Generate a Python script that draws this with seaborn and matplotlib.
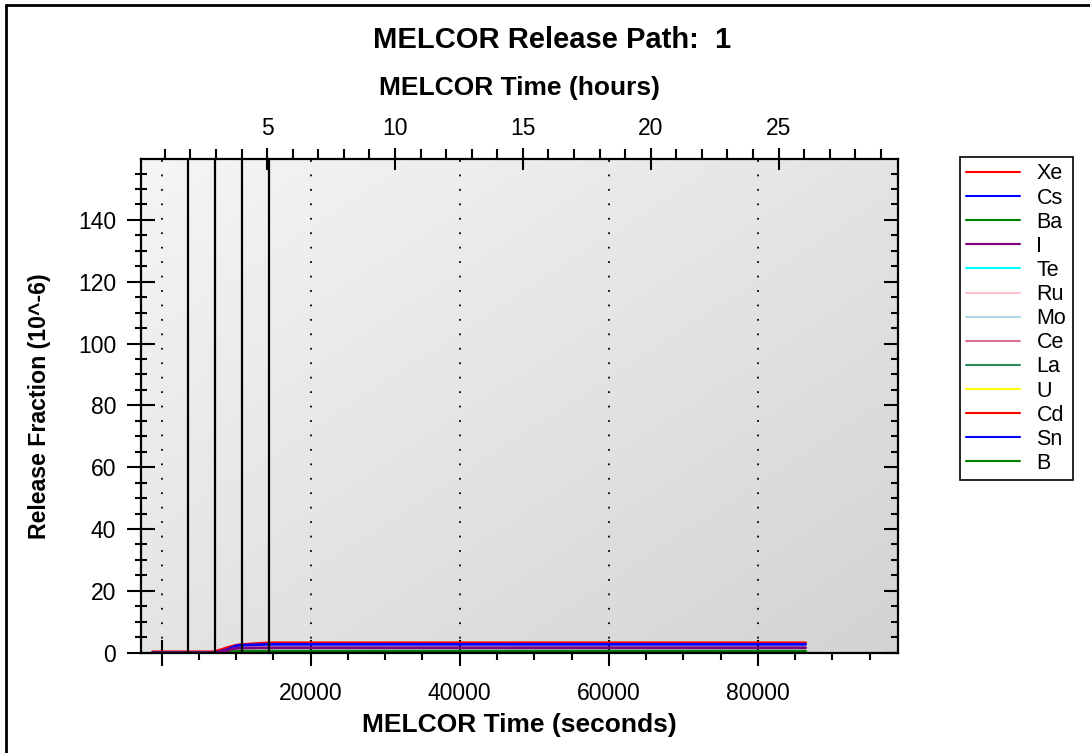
import numpy as np
import pandas as pd
import matplotlib
matplotlib.use("Agg")
import matplotlib.pyplot as plt
import seaborn as sns
from matplotlib.ticker import MultipleLocator, FixedLocator, NullFormatter

# ---------------- data ----------------
elements = ["Xe", "Cs", "Ba", "I", "Te", "Ru", "Mo", "Ce", "La", "U", "Cd", "Sn", "B"]
colors = ["red", "blue", "green", "purple", "cyan", "pink", "lightblue",
          "palevioletred", "seagreen", "yellow", "red", "blue", "green"]

# time breakpoints (seconds)
time_s = [-1200, 7000, 8000, 9000, 10000, 10500, 14300, 86400]
xe_vals = [0.3, 0.3, 1.0, 1.8, 2.4, 2.6, 3.2, 3.2]
cs_vals = [0.0, 0.0, 0.4, 1.2, 2.2, 2.4, 2.7, 2.7]
ba_vals = [0.0, 0.0, 0.1, 0.3, 0.4, 0.5, 0.5, 0.5]
i_vals = [0.0, 0.0, 0.3, 0.9, 1.4, 1.5, 1.6, 1.6]
zero_vals = [0.0, 0.0, 0.0, 0.0, 0.0, 0.0, 0.0, 0.0]
series = {"Xe": xe_vals, "Cs": cs_vals, "Ba": ba_vals, "I": i_vals}

event_times = [3600, 7200, 10800, 14400]          # seconds
x_major = [0, 20000, 40000, 60000, 80000]
x_labels = ["", "20000", "40000", "60000", "80000"]
y_major = [0, 20, 40, 60, 80, 100, 120, 140]
hour_major = [5, 10, 15, 20, 25]

rows = []
for el in elements:
    vals = series.get(el, zero_vals)
    for t, v in zip(time_s, vals):
        rows.append({"time": t, "value": v, "element": el})
df = pd.DataFrame(rows)

# ---------------- figure ----------------
sns.set_theme(style="white")
plt.rcParams["font.family"] = ["Liberation Sans", "DejaVu Sans"]
for k in ["text.color", "axes.labelcolor", "xtick.color", "ytick.color"]:
    plt.rcParams[k] = "black"

W, H = 1090, 753
fig = plt.figure(figsize=(W / 100, H / 100), dpi=100)
pos = [141 / W, (H - 652.7) / H, (897.7 - 141) / W, (652.7 - 159.3) / H]

# gradient background
bg = fig.add_axes(pos, zorder=0)
gx, gy = np.meshgrid(np.linspace(0, 1, 300), np.linspace(0, 1, 300))
grad = (gx + gy) / 2.0
bg.imshow(grad, cmap=matplotlib.colors.LinearSegmentedColormap.from_list(
    "g", ["#f5f5f5", "#d3d3d3"]), aspect="auto", extent=[0, 1, 0, 1], origin="upper")
bg.axis("off")

ax = fig.add_axes(pos, zorder=1)
ax.set_facecolor("none")

palette = dict(zip(elements, colors))
sns.lineplot(data=df, x="time", y="value", hue="element", hue_order=elements,
             palette=palette, estimator=None, sort=False, linewidth=2.0, ax=ax)

for t in event_times:
    ax.axvline(t, color="black", lw=1.6, zorder=3)

ax.set_xlim(-2750, 98750)
ax.set_ylim(0, 159.6)

ax.xaxis.set_major_locator(FixedLocator(x_major))
ax.set_xticklabels(x_labels)
ax.xaxis.set_minor_locator(MultipleLocator(5000))
ax.yaxis.set_major_locator(FixedLocator(y_major))
ax.yaxis.set_minor_locator(MultipleLocator(5))

ax.grid(axis="x", which="major", color="black", linestyle=(0, (1, 7)), lw=1.3)
ax.grid(axis="y", visible=False)

ax.tick_params(axis="x", which="major", direction="inout", length=19, width=1.5,
               labelsize=16.5, pad=11.5)
ax.tick_params(axis="x", which="minor", direction="out", length=5, width=1.5)
ax.tick_params(axis="y", which="major", direction="inout", length=20, width=1.5,
               labelsize=16.5, pad=8)
ax.tick_params(axis="y", which="minor", direction="inout", length=9, width=1.5)

for s in ax.spines.values():
    s.set_color("black")
    s.set_linewidth(1.6)
    s.set_zorder(5)

ax.set_xlabel("MELCOR Time (seconds)", fontsize=19, fontweight="bold", labelpad=5.5)
ax.set_ylabel("Release Fraction (10^-6)", fontsize=16.7, fontweight="bold", labelpad=19)

# right mirrored ticks (inward)
axr = ax.twinx()
axr.set_ylim(ax.get_ylim())
axr.yaxis.set_major_locator(FixedLocator(y_major))
axr.yaxis.set_minor_locator(MultipleLocator(5))
axr.yaxis.set_major_formatter(NullFormatter())
axr.tick_params(axis="y", which="major", direction="in", length=10, width=1.5)
axr.tick_params(axis="y", which="minor", direction="in", length=5, width=1.5)
for s in axr.spines.values():
    s.set_visible(False)

# top hours axis
ax2 = ax.twiny()
ax2.set_xlim(0.07, 29.66)
ax2.xaxis.set_major_locator(FixedLocator(hour_major))
ax2.xaxis.set_minor_locator(MultipleLocator(1))
ax2.tick_params(axis="x", which="major", direction="inout", length=16, width=1.5,
                labelsize=16.5, pad=6)
ax2.tick_params(axis="x", which="minor", direction="out", length=7, width=1.5)
ax2.set_xlabel("MELCOR Time (hours)", fontsize=19, fontweight="bold", labelpad=16)
for s in ax2.spines.values():
    s.set_visible(False)

# legend
sns.move_legend(ax, "upper left", bbox_to_anchor=(960 / W, 1 - 157 / H),
                bbox_transform=fig.transFigure, title=None, frameon=True,
                fontsize=15.5, handlelength=2.5, handletextpad=0.75,
                labelspacing=0.145, borderpad=0.3, borderaxespad=0)
leg = ax.get_legend()
leg.get_frame().set_edgecolor("black")
leg.get_frame().set_linewidth(1.2)
leg.get_frame().set_boxstyle("square", pad=0)
leg.get_frame().set_facecolor("white")
leg.get_frame().set_alpha(1)
for line in leg.get_lines():
    line.set_linewidth(1.5)

fig.text(552 / W, 1 - 40 / H, "MELCOR Release Path:  1", ha="center", va="center",
         fontsize=21, fontweight="bold")

# outer frame (left and top edges)
fig.add_artist(plt.Line2D([6 / W, 6 / W], [0, 1 - 5 / H], transform=fig.transFigure,
                          color="black", lw=2))
fig.add_artist(plt.Line2D([6 / W, 1], [1 - 5 / H, 1 - 5 / H], transform=fig.transFigure,
                          color="black", lw=2))

fig.savefig("out.png", dpi=100)
